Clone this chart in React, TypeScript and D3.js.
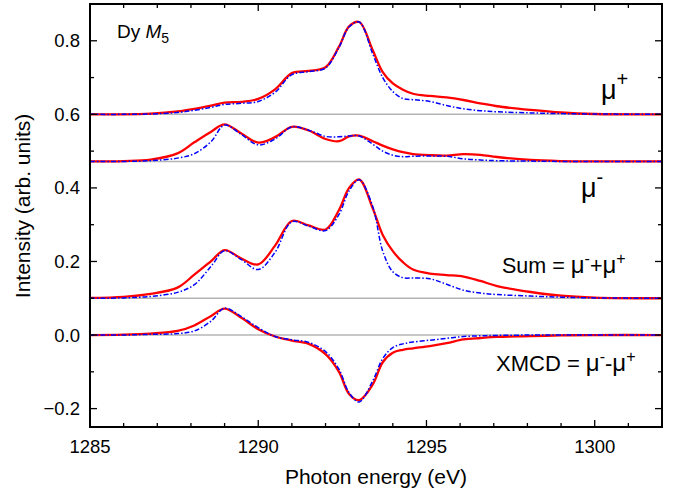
import React from "react";
import * as d3 from "d3";

// Photon energy grid (eV)
const energy = [
  1285, 1286, 1286.8, 1287.6, 1288.1, 1288.6, 1289.0, 1289.5, 1290.0, 1290.5,
  1291.0, 1291.5, 1292.0, 1292.4, 1292.7, 1293.0, 1293.4, 1293.7, 1294.0, 1294.3,
  1294.6, 1295.1, 1295.6, 1296.1, 1296.6, 1297.1, 1298.1, 1299, 1300, 1302,
];

// mu+ (offset 0.6)
const muPlusRed = [
  0.600, 0.600, 0.602, 0.608, 0.615, 0.624, 0.632, 0.634, 0.642, 0.668,
  0.712, 0.718, 0.728, 0.784, 0.839, 0.851, 0.775, 0.715, 0.684, 0.667,
  0.656, 0.650, 0.646, 0.639, 0.630, 0.622, 0.612, 0.605, 0.601, 0.600,
];
const muPlusBlue = [
  0.600, 0.600, 0.601, 0.605, 0.611, 0.619, 0.627, 0.630, 0.635, 0.660,
  0.708, 0.716, 0.726, 0.782, 0.838, 0.851, 0.765, 0.700, 0.662, 0.643,
  0.640, 0.635, 0.624, 0.615, 0.610, 0.607, 0.604, 0.602, 0.601, 0.600,
];

// mu- (offset 0.472)
const muMinusRed = [
  0.472, 0.473, 0.477, 0.494, 0.524, 0.553, 0.573, 0.548, 0.523, 0.538,
  0.566, 0.556, 0.533, 0.527, 0.540, 0.542, 0.527, 0.515, 0.505, 0.497,
  0.492, 0.489, 0.488, 0.492, 0.490, 0.484, 0.476, 0.473, 0.472, 0.472,
];
const muMinusBlue = [
  0.472, 0.472, 0.474, 0.481, 0.493, 0.526, 0.571, 0.545, 0.517, 0.533,
  0.566, 0.557, 0.540, 0.539, 0.541, 0.541, 0.519, 0.500, 0.489, 0.485,
  0.486, 0.487, 0.486, 0.479, 0.476, 0.474, 0.473, 0.472, 0.472, 0.472,
];

// Sum (offset 0.1)
const sumRed = [
  0.101, 0.104, 0.112, 0.129, 0.164, 0.201, 0.231, 0.208, 0.192, 0.243,
  0.310, 0.298, 0.287, 0.340, 0.400, 0.423, 0.345, 0.272, 0.228, 0.198,
  0.178, 0.167, 0.163, 0.159, 0.147, 0.133, 0.117, 0.107, 0.102, 0.100,
];
const sumBlue = [
  0.100, 0.101, 0.105, 0.116, 0.137, 0.187, 0.229, 0.205, 0.178, 0.225,
  0.308, 0.296, 0.284, 0.328, 0.392, 0.422, 0.350, 0.228, 0.172, 0.156,
  0.155, 0.153, 0.138, 0.122, 0.114, 0.110, 0.106, 0.103, 0.101, 0.100,
];

// XMCD (offset 0)
const xmcdRed = [
  0.000, 0.001, 0.004, 0.011, 0.026, 0.052, 0.072, 0.047, 0.016, -0.004,
  -0.015, -0.024, -0.052, -0.100, -0.160, -0.177, -0.135, -0.074, -0.048, -0.040,
  -0.036, -0.030, -0.022, -0.012, -0.008, -0.005, -0.003, -0.001, 0.000, 0.000,
];
const xmcdBlue = [
  0.000, 0.000, 0.002, 0.004, 0.011, 0.038, 0.073, 0.050, 0.020, -0.004,
  -0.013, -0.020, -0.045, -0.093, -0.157, -0.182, -0.125, -0.064, -0.034, -0.024,
  -0.019, -0.014, -0.009, -0.004, -0.002, -0.001, 0.000, 0.000, 0.000, 0.000,
];

const baselines = [0.6, 0.472, 0.1, 0.0];
const xTicks = [1285, 1290, 1295, 1300];
const yTicks = [-0.2, 0.0, 0.2, 0.4, 0.6, 0.8];
const xMinor = [1286, 1287, 1288, 1289, 1291, 1292, 1293, 1294, 1296, 1297, 1298, 1299, 1301];
const yMinor = [-0.1, 0.1, 0.3, 0.5, 0.7];

const W = 680, H = 494;
const L = 90, R = 662, T = 4, B = 427;
const FONT = "'Liberation Sans', Arial, Helvetica, sans-serif";

export default function App() {
  const x = d3.scaleLinear().domain([1285, 1302]).range([L, R]);
  const y = d3.scaleLinear().domain([-0.25, 0.9]).range([B, T]);
  const line = d3
    .line<number>()
    .x((_, i) => x(energy[i]))
    .y((d) => y(d))
    .curve(d3.curveCatmullRom.alpha(0.5));

  const reds = [muPlusRed, muMinusRed, sumRed, xmcdRed];
  const blues = [muPlusBlue, muMinusBlue, sumBlue, xmcdBlue];

  return (
    <svg
      width={W}
      height={H}
      style={{ position: "absolute", left: 0, top: 0, background: "#fff" }}
      fontFamily={FONT}
    >
      <defs>
        <clipPath id="plot">
          <rect x={L} y={T} width={R - L} height={B - T} />
        </clipPath>
      </defs>
      <rect width={W} height={H} fill="#fff" />
      <g clipPath="url(#plot)">
        {baselines.map((b, i) => (
          <line key={"b" + i} x1={L} x2={R} y1={y(b)} y2={y(b)} stroke="#b4b4b4" strokeWidth={1.5} />
        ))}
        {reds.map((s, i) => (
          <path key={"r" + i} d={line(s) || ""} fill="none" stroke="#ff0000" strokeWidth={2.3} />
        ))}
        {blues.map((s, i) => (
          <path
            key={"u" + i}
            d={line(s) || ""}
            fill="none"
            stroke="#0000ff"
            strokeWidth={1.5}
            strokeDasharray="5 2 1.5 2"
          />
        ))}
      </g>
      {/* ticks */}
      <g stroke="#000" strokeWidth={1.3}>
        {xTicks.map((t) => (
          <g key={"xt" + t}>
            <line x1={x(t)} x2={x(t)} y1={B} y2={B - 7} />
            <line x1={x(t)} x2={x(t)} y1={T} y2={T + 7} />
          </g>
        ))}
        {xMinor.map((t) => (
          <g key={"xm" + t}>
            <line x1={x(t)} x2={x(t)} y1={B} y2={B - 4} />
            <line x1={x(t)} x2={x(t)} y1={T} y2={T + 4} />
          </g>
        ))}
        {yTicks.map((t) => (
          <g key={"yt" + t}>
            <line x1={L} x2={L + 7} y1={y(t)} y2={y(t)} />
            <line x1={R} x2={R - 7} y1={y(t)} y2={y(t)} />
          </g>
        ))}
        {yMinor.map((t) => (
          <g key={"ym" + t}>
            <line x1={L} x2={L + 4} y1={y(t)} y2={y(t)} />
            <line x1={R} x2={R - 4} y1={y(t)} y2={y(t)} />
          </g>
        ))}
      </g>
      <rect x={L} y={T} width={R - L} height={B - T} fill="none" stroke="#000" strokeWidth={2} />
      {/* tick labels */}
      <g fontSize={18.5} fill="#000">
        {xTicks.map((t) => (
          <text key={"xl" + t} x={x(t)} y={453} textAnchor="middle">
            {d3.format("d")(t)}
          </text>
        ))}
        {yTicks.map((t) => (
          <text key={"yl" + t} x={80} y={y(t)} dy="0.35em" textAnchor="end">
            {d3.format(".1f")(t)}
          </text>
        ))}
      </g>
      {/* axis titles */}
      <text x={376} y={484} textAnchor="middle" fontSize={21} fill="#000">
        Photon energy (eV)
      </text>
      <text
        transform={`translate(30,206) rotate(-90)`}
        textAnchor="middle"
        fontSize={21}
        fill="#000"
      >
        Intensity (arb. units)
      </text>
      {/* annotations */}
      <text x={117} y={38} fontSize={19} fill="#000">
        Dy <tspan fontStyle="italic">M</tspan>
        <tspan fontSize={14} dy={5}>5</tspan>
      </text>
      <text x={601} y={99} fontSize={27} fill="#000">
        μ<tspan fontSize={20} dy={-13}>+</tspan>
      </text>
      <text x={581} y={197} fontSize={27} fill="#000">
        μ<tspan fontSize={20} dy={-13}>-</tspan>
      </text>
      <text x={502} y={273} fontSize={21.5} fill="#000">
        Sum = <tspan fontSize={24}>μ</tspan>
        <tspan fontSize={16} dy={-9}>-</tspan>
        <tspan dy={9}>+</tspan>
        <tspan fontSize={24}>μ</tspan>
        <tspan fontSize={16} dy={-9}>+</tspan>
      </text>
      <text x={496} y={371} fontSize={22} fill="#000">
        XMCD = <tspan fontSize={24}>μ</tspan>
        <tspan fontSize={16} dy={-9}>-</tspan>
        <tspan dy={9}>-</tspan>
        <tspan fontSize={24}>μ</tspan>
        <tspan fontSize={16} dy={-9}>+</tspan>
      </text>
    </svg>
  );
}
